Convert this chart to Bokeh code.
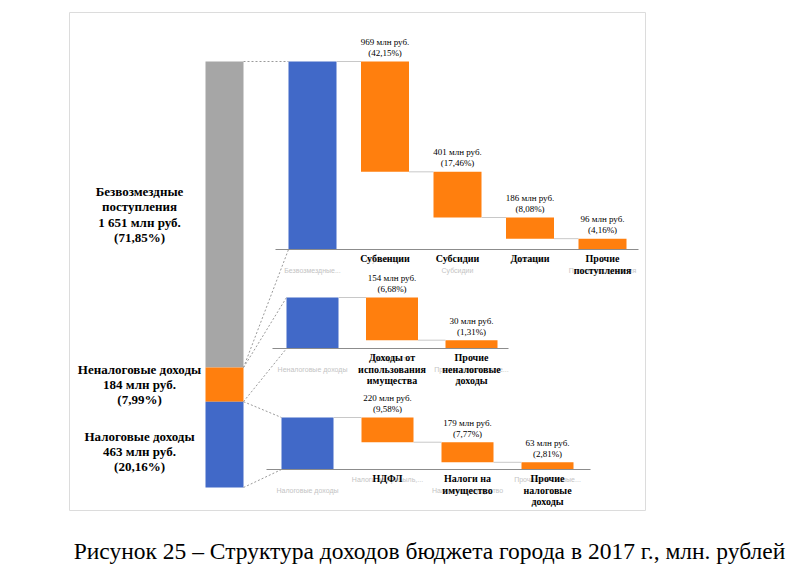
from bokeh.plotting import figure
from bokeh.models import Range1d
from bokeh.core.properties import value
from bokeh.embed import file_html
from bokeh.resources import INLINE

# ---------------- DATA ----------------
total_names = ["Безвозмездные\nпоступления", "Неналоговые доходы", "Налоговые доходы"]
total_values = [1651, 184, 463]
total_pct = ["71,85%", "7,99%", "20,16%"]

p1_axis = ["Безвозмездные...", "Субвенции", "Субсидии", "Дотации", "Прочие поступления"]
p1_cats = ["Субвенции", "Субсидии", "Дотации", "Прочие\nпоступления"]
p1_vals = [969, 401, 186, 96]
p1_pct = ["42,15%", "17,46%", "8,08%", "4,16%"]

p2_axis = ["Неналоговые доходы", "Доходы от...", "Прочие неналоговые..."]
p2_cats = ["Доходы от\nиспользования\nимущества", "Прочие\nненалоговые\nдоходы"]
p2_vals = [154, 30]
p2_pct = ["6,68%", "1,31%"]

p3_axis = ["Налоговые доходы", "Налоги на прибыль,...", "Налоги на имущество", "Прочие налоговые..."]
p3_cats = ["НДФЛ", "Налоги на\nимущество", "Прочие\nналоговые\nдоходы"]
p3_vals = [220, 179, 63]
p3_pct = ["9,58%", "7,77%", "2,81%"]

caption = "Рисунок 25 – Структура доходов бюджета города в 2017 г., млн. рублей"

# ---------------- STYLE ----------------
BLUE = "#4169c8"
ORANGE = "#ff7f0e"
GRAY = "#a6a6a6"
SERIF = value("'Times New Roman', 'Liberation Serif', serif")
SANS = value("Liberation Sans")

W, H = 800, 575
p = figure(width=W, height=H, x_range=Range1d(0, W), y_range=Range1d(H, 0),
           output_backend="svg", toolbar_location=None, min_border=0)
p.axis.visible = False
p.grid.visible = False
p.outline_line_color = None
p.background_fill_color = "white"

# frame
p.quad(left=[69], right=[645], top=[12], bottom=[510], fill_color=None,
       line_color="#dcdcdc", line_width=1)

def txt(xs, ys, texts, size, color="black", bold=False, font=SERIF, align="center"):
    p.text(x=xs, y=ys, text=texts, text_font=font, text_font_size=f"{size}px",
           text_color=color, text_align=align, text_baseline="middle",
           text_font_style="bold" if bold else "normal")

# ---------------- stacked total bar ----------------
st_left, st_right, st_top, st_height = 205, 243, 61, 426
total = sum(total_values)
st_scale = st_height / total
st_colors = [GRAY, ORANGE, BLUE]
tops, bots = [], []
acc = 0
for v in total_values:
    tops.append(st_top + acc * st_scale)
    acc += v
    bots.append(st_top + acc * st_scale)
p.quad(left=[st_left] * 3, right=[st_right] * 3, top=tops, bottom=bots,
       fill_color=st_colors, line_color=None)

# left labels
label_shift = [0, 0, 7]
lab_x = 139
for i, name in enumerate(total_names):
    lines = name.split("\n") + [f"{total_values[i]:,} млн руб.".replace(",", " "), f"({total_pct[i]})"]
    n = len(lines)
    c = (tops[i] + bots[i]) / 2 + label_shift[i]
    ys = [c + (k - (n - 1) / 2) * 15.3 for k in range(n)]
    txt([lab_x] * n, ys, lines, 13, bold=True)

# ---------------- waterfall panels ----------------
panels = [
    dict(total=total_values[0], vals=p1_vals, pct=p1_pct, cats=p1_cats, axis=p1_axis,
         top=61, base=249, x0=288, step=72.5, w=48, axl=275, axr=638),
    dict(total=total_values[1], vals=p2_vals, pct=p2_pct, cats=p2_cats, axis=p2_axis,
         top=297, base=348, x0=286, step=79.5, w=52, axl=272, axr=508),
    dict(total=total_values[2], vals=p3_vals, pct=p3_pct, cats=p3_cats, axis=p3_axis,
         top=417, base=469, x0=281, step=80, w=52, axl=266, axr=590),
]

for k, pn in enumerate(panels):
    scale = (pn["base"] - pn["top"]) / pn["total"]
    # faint axis labels (behind)
    for j, lab in enumerate(pn["axis"]):
        cx = pn["x0"] + j * pn["step"] + pn["w"] / 2
        yy = pn["base"] + (10 if j % 2 == 1 else 21)
        txt([cx], [yy], [lab], 7, color="#c4c4c4", font=SANS)
    # total bar
    p.quad(left=[pn["x0"]], right=[pn["x0"] + pn["w"]], top=[pn["base"] - pn["total"] * scale],
           bottom=[pn["base"]], fill_color=BLUE, line_color=None)
    lefts, rights, btops, bbots = [], [], [], []
    acc = 0
    for j, v in enumerate(pn["vals"]):
        l = pn["x0"] + (j + 1) * pn["step"]
        lefts.append(l)
        rights.append(l + pn["w"])
        btops.append(pn["top"] + acc * scale)
        acc += v
        bbots.append(pn["top"] + acc * scale)
    p.quad(left=lefts, right=rights, top=btops, bottom=bbots, fill_color=ORANGE, line_color=None)
    # connectors
    cx0 = [pn["x0"] + pn["w"]] + rights[:-1]
    cx1 = lefts
    cy = btops
    p.segment(x0=cx0, y0=cy, x1=cx1, y1=cy, line_color="#c8c8c8", line_width=1)
    # axis line
    p.segment(x0=[pn["axl"]], y0=[pn["base"]], x1=[pn["axr"]], y1=[pn["base"]],
              line_color="#8c8c8c", line_width=1.2)
    # value labels
    for j, v in enumerate(pn["vals"]):
        cx = (lefts[j] + rights[j]) / 2
        txt([cx, cx], [btops[j] - 19.5, btops[j] - 8.5], [f"{v} млн руб.", f"({pn['pct'][j]})"], 9)
    # bold category labels
    for j, cat in enumerate(pn["cats"]):
        cx = (lefts[j] + rights[j]) / 2
        lines = cat.split("\n")
        ys = [pn["base"] + 9 + m * 11.5 for m in range(len(lines))]
        txt([cx] * len(lines), ys, lines, 10, bold=True)

# dotted connectors between stacked bar and panels
sx, sy0 = [], []
ex, ey = [], []
for i, pn in enumerate(panels):
    sx += [st_right, st_right]
    sy0 += [tops[i], bots[i]]
    ex += [pn["x0"], pn["x0"]]
    ey += [pn["top"], pn["base"]]
p.segment(x0=sx, y0=sy0, x1=ex, y1=ey, line_color="#9a9a9a", line_dash="2 2", line_width=1)

# caption
txt([429], [550], [caption], 23.5)

open("out.html", "w").write(file_html(p, INLINE))
